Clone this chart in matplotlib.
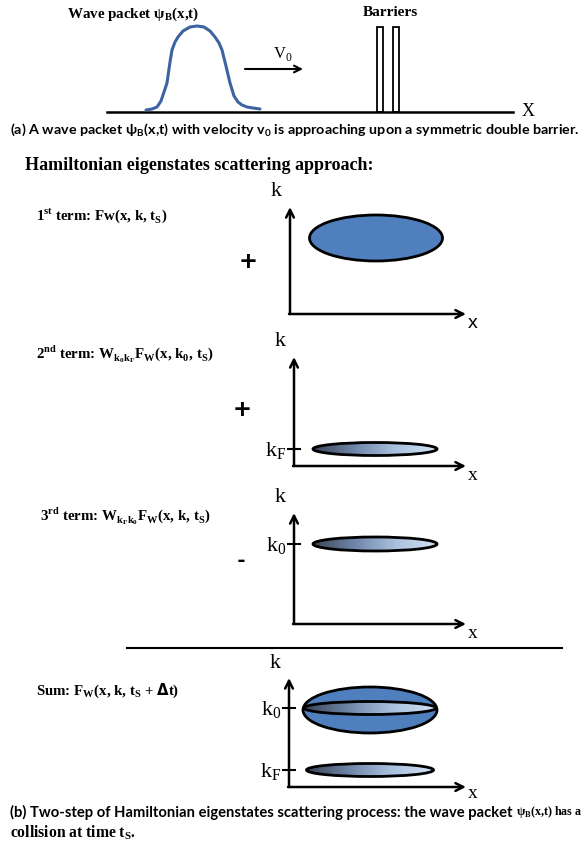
import numpy as np
import matplotlib.pyplot as plt
from matplotlib.patches import Ellipse, Rectangle
from matplotlib.colors import LinearSegmentedColormap

# wave packet outline (pixel coords)
packet_x = [146, 152, 157, 161, 164, 167, 170, 172, 175, 178, 183, 190, 197, 204, 210, 215, 219, 222, 226, 230, 234, 238, 242, 247, 253, 260]
packet_y = [110, 109, 107, 101, 92, 83, 62, 50, 42, 37, 31, 27, 26, 27, 31, 37, 43, 50, 66, 83, 96, 102, 105, 107, 108, 109]

term_labels = [
    r"1$^\mathregular{st}$ term: Fw(x, k, t$_\mathregular{S}$)",
    r"2$^\mathregular{nd}$ term: W$_{\mathregular{k}_\mathregular{0}\mathregular{k}_\mathregular{F}}$F$_\mathregular{W}$(x, k$_\mathregular{0}$, t$_\mathregular{S}$)",
    r"3$^\mathregular{rd}$ term: W$_{\mathregular{k}_\mathregular{F}\mathregular{k}_\mathregular{0}}$F$_\mathregular{W}$(x, k, t$_\mathregular{S}$)",
    r"Sum: F$_\mathregular{W}$(x, k, t$_\mathregular{S}$ + $\mathbf{\Delta}$t)",
]
term_signs = ["+", "+", "-", None]

caption_a = r"(a) A wave packet ψ$_\mathregular{B}$(x,t) with velocity v$_\mathregular{0}$ is approaching upon a symmetric double barrier."
caption_b1 = "(b) Two-step of Hamiltonian eigenstates scattering process: the wave packet "
caption_b2 = r"ψ$_\mathregular{B}$(x,t) has a"
caption_b3 = r"collision at time t$_\mathregular{S}$."

BLUE = "#4f7fbd"
grad = LinearSegmentedColormap.from_list("g", ["#3a4458", "#6f86a8", "#a9c0de", "#d3e2f4"])

SERIF = ["Liberation Serif", "DejaVu Serif"]
SANS = ["Lato", "DejaVu Sans"]

fig = plt.figure(figsize=(5.85, 8.52), dpi=100)
ax = fig.add_axes([0, 0, 1, 1])
ax.set_xlim(0, 585)
ax.set_ylim(852, 0)
ax.axis("off")
r = fig.canvas.get_renderer()


def fit_text(x, y, s, right, **kw):
    # shrink/grow font so the text ends at `right`
    t = ax.text(x, y, s, ha="left", va="center", **kw)
    for _ in range(3):
        bb = t.get_window_extent(r).transformed(ax.transData.inverted())
        t.set_fontsize(t.get_fontsize() * (right - x) / (bb.x1 - x))
    return t


def arrow(x0, y0, x1, y1, lw=1.8, ms=14):
    ax.annotate("", xy=(x1, y1), xytext=(x0, y0),
                arrowprops=dict(arrowstyle="->", lw=lw, color="black",
                                mutation_scale=ms, shrinkA=0, shrinkB=0))


def grad_ellipse(cx, cy, w, h):
    e = Ellipse((cx, cy), w, h, facecolor="none", edgecolor="black", lw=2, zorder=4)
    ax.add_patch(e)
    g = np.linspace(0, 1, 256).reshape(1, -1)
    im = ax.imshow(g, cmap=grad, extent=(cx - w / 2, cx + w / 2, cy + h / 2, cy - h / 2),
                   aspect="auto", zorder=3)
    im.set_clip_path(e)


def panel(x0, y0, ytop, xend, xfont, xdy=9):
    arrow(x0, y0, x0, ytop)
    arrow(x0 - 1, y0, xend, y0)
    ax.text(x0 - 14, ytop - 15, "k", family=SERIF, fontsize=16, ha="center", va="center")
    ax.text(xend + 7, y0 + xdy, "x", family=xfont, fontsize=14, ha="center", va="center")


def tick(x0, y, label):
    ax.plot([x0 - 6, x0 + 6], [y, y], color="black", lw=1.5)
    ax.text(x0 - 8, y + 2, label, family=SERIF, fontsize=16, ha="right", va="center")


# ---- (a) wave packet and barriers
ax.plot([107, 513], [112, 112], color="black", lw=1.8)
ax.text(528, 111, "X", family=SERIF, fontsize=13, ha="center", va="center")
ax.plot(packet_x, packet_y, color="#3d64a0", lw=2.2, solid_capstyle="round")
ax.text(67, 14, r"Wave packet ψ$_\mathregular{B}$(x,t)", family=SERIF, fontweight="bold",
        fontsize=10.8, ha="left", va="center")
ax.text(390, 13, "Barriers", family=SERIF, fontweight="bold", fontsize=11, ha="center", va="center")
for bx in [377, 393]:
    ax.add_patch(Rectangle((bx, 27), 6, 85, facecolor="white", edgecolor="black", lw=1.3))
arrow(245, 69, 303, 69, lw=1.5, ms=12)
ax.text(283, 54, r"V$_\mathregular{0}$", family=SERIF, fontsize=12, ha="center", va="center")
fit_text(10, 130, caption_a, 578, family=SANS, fontweight="bold", fontsize=8)

# ---- (b) Hamiltonian eigenstates
ax.text(25, 165, "Hamiltonian eigenstates scattering approach:", family=SERIF,
        fontweight="bold", fontsize=13, ha="left", va="center")

label_y = [216, 354, 516, 691]
label_x = [36, 36, 40, 36]
sign_pos = [(248, 262), (242, 410), (241, 560)]
sign_size = [21, 21, 17]
for i, lab in enumerate(term_labels):
    ax.text(label_x[i], label_y[i], lab, family=SERIF, fontweight="bold", fontsize=10.7,
            ha="left", va="center")
    if term_signs[i]:
        ax.text(sign_pos[i][0], sign_pos[i][1], term_signs[i], family=SANS, fontweight="bold",
                fontsize=sign_size[i], ha="center", va="center")

# panel 1
panel(290, 314, 207, 466, ["Liberation Sans", "DejaVu Sans"])
ax.add_patch(Ellipse((376, 238), 133, 46, facecolor=BLUE, edgecolor="black", lw=2))

# panel 2
panel(294, 466, 357, 466, SERIF)
tick(294, 449, r"k$_\mathregular{F}$")
grad_ellipse(375, 449, 124, 13)

# panel 3
panel(294, 624, 513, 466, SERIF)
tick(294, 544, r"k$_\mathregular{0}$")
grad_ellipse(375, 544, 124, 14)

ax.plot([127, 562], [648, 648], color="black", lw=1.5)

# sum panel
panel(289, 787, 678, 466, SERIF, xdy=6)
ax.add_patch(Ellipse((370, 710), 134, 46, facecolor=BLUE, edgecolor="black", lw=2, zorder=2))
grad_ellipse(370, 708, 132, 13)
tick(289, 708, r"k$_\mathregular{0}$")
grad_ellipse(370, 770, 127, 13)
tick(289, 770, r"k$_\mathregular{F}$")

# caption (b)
t1 = fit_text(10, 812, caption_b1, 515, family=SANS, fontweight="bold", fontsize=8)
bb = t1.get_window_extent(r).transformed(ax.transData.inverted())
fit_text(bb.x1, 812, caption_b2, 583, family=SERIF, fontweight="bold", fontsize=10)
fit_text(10, 833, caption_b3, 136, family=SERIF, fontweight="bold", fontsize=10)

fig.savefig("out.png", dpi=100)
